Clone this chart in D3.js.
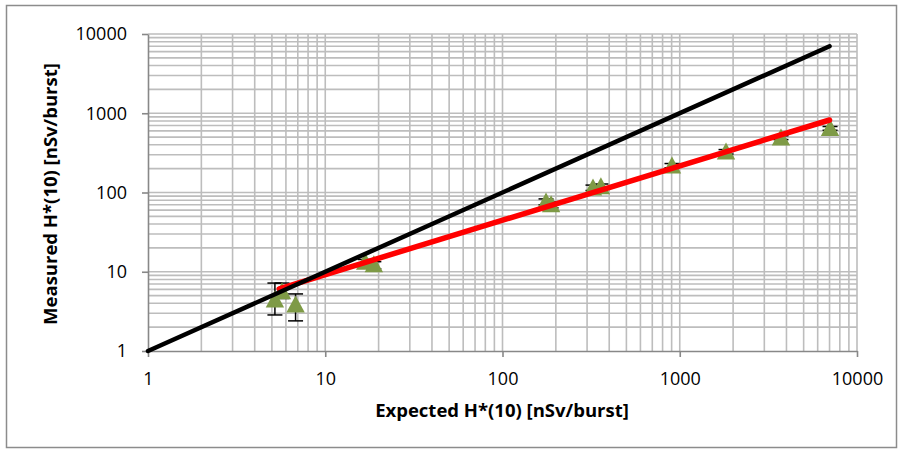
<!DOCTYPE html>
<html>
<head>
<meta charset="utf-8">
<script src="https://cdn.jsdelivr.net/npm/d3@7/dist/d3.min.js"></script>
<style>
  html, body { margin: 0; padding: 0; background: #ffffff; }
  svg { display: block; }
</style>
</head>
<body>
<svg id="chart" width="904" height="454"></svg>
<script>
// ---- data ----
const expected  = [5.2, 5.7, 6.8, 16.8, 18.8, 176, 188, 324, 359, 904, 1824, 3725, 7045];
const measured  = [4.4, 5.6, 3.8, 13.2, 12.3, 76, 70, 114, 118, 216, 324, 487, 640];
const errLow    = [2.85, 4.6, 2.4, 11.6, 10.9, 70, 64, 106, 110, 205, 305, 465, 610];
const errHigh   = [7.2, 7.2, 5.25, 14.3, 13.4, 83, 76, 124, 128, 232, 348, 520, 680];
const identityX = [1, 7000];
const identityY = [1, 7000];
const fitX      = [5.5, 7000];
const fitY      = [6.1, 822];
const majorTicks = [1, 10, 100, 1000, 10000];
const xTitle = "Expected H*(10) [nSv/burst]";
const yTitle = "Measured H*(10) [nSv/burst]";

// ---- layout ----
const plot = { left: 148, right: 857, top: 34, bottom: 351 };
const FONT = "'Open Sans', 'Noto Sans', sans-serif";
const gridColor = "#bdbdbd";
const axisColor = "#888888";

const svg = d3.select("#chart");

// outer chart border
svg.append("rect")
  .attr("x", 6.5).attr("y", 5.5)
  .attr("width", 890).attr("height", 442)
  .attr("fill", "#ffffff")
  .attr("stroke", "#8c8c8c")
  .attr("stroke-width", 1.5);

const x = d3.scaleLog().domain([1, 10000]).range([plot.left, plot.right]);
const y = d3.scaleLog().domain([1, 10000]).range([plot.bottom, plot.top]);

// minor + major grid positions from decades
const gridVals = [];
majorTicks.forEach((d, i) => {
  gridVals.push(d);
  if (i < majorTicks.length - 1) for (let k = 2; k <= 9; k++) gridVals.push(d * k);
});

const grid = svg.append("g");
grid.selectAll("line.v").data(gridVals.filter(v => v > 1)).join("line")
  .attr("x1", d => x(d)).attr("x2", d => x(d))
  .attr("y1", plot.top).attr("y2", plot.bottom)
  .attr("stroke", gridColor).attr("stroke-width", 1.6);
grid.selectAll("line.h").data(gridVals.filter(v => v > 1)).join("line")
  .attr("y1", d => y(d)).attr("y2", d => y(d))
  .attr("x1", plot.left).attr("x2", plot.right)
  .attr("stroke", gridColor).attr("stroke-width", 1.6);

// axes
const xAxis = d3.axisBottom(x).tickValues(majorTicks).tickFormat(d3.format("d"))
  .tickSize(6).tickSizeOuter(0).tickPadding(15);
const yAxis = d3.axisLeft(y).tickValues(majorTicks).tickFormat(d3.format("d"))
  .tickSize(6).tickSizeOuter(0).tickPadding(15);

const gx = svg.append("g").attr("transform", `translate(0,${plot.bottom})`).call(xAxis);
const gy = svg.append("g").attr("transform", `translate(${plot.left},0)`).call(yAxis);
[gx, gy].forEach(g => {
  g.select(".domain").attr("stroke", axisColor).attr("stroke-width", 1.6);
  g.selectAll(".tick line").attr("stroke", axisColor).attr("stroke-width", 1.6);
  g.selectAll(".tick text").attr("fill", "#000").style("font-family", FONT).style("font-size", "18px");
});

// error bars
const eb = svg.append("g").attr("stroke", "#000").attr("stroke-width", 1.5);
const cap = 7.5;
expected.forEach((xv, i) => {
  const cx = x(xv);
  eb.append("line").attr("x1", cx).attr("x2", cx).attr("y1", y(errLow[i])).attr("y2", y(errHigh[i]));
  eb.append("line").attr("x1", cx - cap).attr("x2", cx + cap).attr("y1", y(errLow[i])).attr("y2", y(errLow[i]));
  eb.append("line").attr("x1", cx - cap).attr("x2", cx + cap).attr("y1", y(errHigh[i])).attr("y2", y(errHigh[i]));
});

// triangle markers
const tri = "M0,-9.5 L9.2,7.5 L-9.2,7.5 Z";
svg.append("g").selectAll("path").data(expected).join("path")
  .attr("d", tri)
  .attr("transform", (d, i) => `translate(${x(d)},${y(measured[i])})`)
  .attr("fill", "#7e9a46");

// fit line (red)
const line = d3.line().x(d => x(d[0])).y(d => y(d[1]));
svg.append("path")
  .datum(fitX.map((v, i) => [v, fitY[i]]))
  .attr("d", line)
  .attr("fill", "none").attr("stroke", "#ff0000").attr("stroke-width", 5.5)
  .attr("stroke-linecap", "round");

// identity line (black)
svg.append("path")
  .datum(identityX.map((v, i) => [v, identityY[i]]))
  .attr("d", line)
  .attr("fill", "none").attr("stroke", "#000000").attr("stroke-width", 4.5)
  .attr("stroke-linecap", "round");

// axis titles
svg.append("text")
  .attr("x", 502).attr("y", 417)
  .attr("text-anchor", "middle")
  .style("font-family", FONT).style("font-size", "18.5px").style("font-weight", "bold")
  .text(xTitle);

svg.append("text")
  .attr("transform", "translate(57,194) rotate(-90)")
  .attr("text-anchor", "middle")
  .style("font-family", FONT).style("font-size", "18.5px").style("font-weight", "bold")
  .text(yTitle);
</script>
</body>
</html>
